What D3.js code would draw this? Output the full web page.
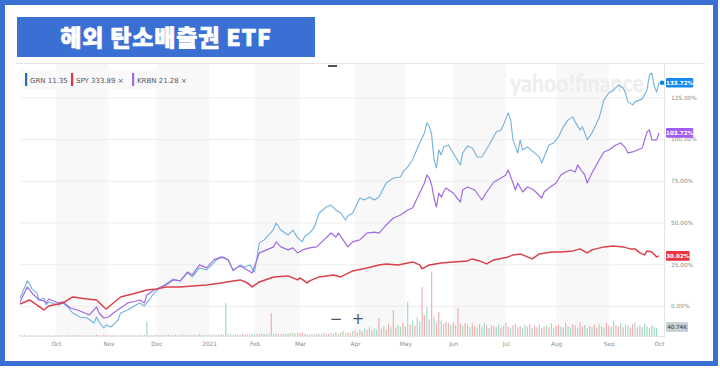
<!DOCTYPE html>
<html><head><meta charset="utf-8">
<script src="https://cdn.jsdelivr.net/npm/d3@7"></script>
<style>body{margin:0;background:#fff;}svg{display:block;}</style>
</head><body><svg id="c" width="720" height="368"></svg>
<script>
const title = "해외 탄소배출권 ETF";
const monthLabels = ["Oct","Nov","Dec","2021","Feb","Mar","Apr","May","Jun","Jul","Aug","Sep","Oct"];
const monthDays = [0,22,42,64,83,102,125,146,166,188,209,231,252];
const yTicks = [0,25,50,75,100,125];
const legendNames = ["GRN","SPY","KRBN"];
const legendPrices = ["11.35","333.89","21.28"];
const lastPct = [133.72, 30.02, 103.72];
const lastVolume = "40.74K";
const watermark = "yahoo!finance";

const grnDays = [-15,-13,-12,-11,-10,-8,-7,-5,-4,-3,1,3,5,7,10,13,16,17,18,20,21,23,26,27,30,32,35,37,39,41,44,46,49,52,55,57,60,63,66,67,70,72,73,74,77,79,81,83,84,85,87,90,91,92,94,97,99,101,103,104,106,108,110,113,115,117,119,121,122,124,127,129,131,133,135,138,141,144,145,147,149,152,154,155,156,157,158,159,160,161,162,164,166,169,170,172,174,176,178,181,184,186,187,189,190,191,193,194,195,197,198,200,202,203,204,206,208,210,212,214,216,217,219,220,221,222,224,226,227,229,231,233,235,237,238,239,241,242,244,245,247,248,249,250,251,252];
const grnPct = [4.8,11.4,15.0,13.2,10.2,7.8,3.6,4.8,0.6,2.4,0.6,1.8,-0.6,-4.2,-6.6,-7.2,-10.2,-6.6,-9.6,-13.2,-11.4,-12.6,-8.4,-4.2,-2.4,-0.6,1.8,0,3.6,7.8,11.4,13.2,16.2,15.0,19.8,17.4,22.8,21.6,25.8,27.6,29.4,27.6,24.6,21.0,24.6,23.4,24.6,20.4,28.8,37.8,39.6,44.3,46.1,49.7,45.5,42.5,45.5,40.8,38.4,41.9,43.7,47.3,55.7,59.3,60.5,57.5,55.7,51.5,53.9,55.7,64.7,63.5,65.3,63.5,65.3,73.7,76.7,77.3,80.3,83.3,87.5,97.7,103.7,109.7,107.9,102.5,87.5,82.7,93.5,90.5,95.3,96.5,91.7,84.5,91.7,95.9,94.7,89.3,89.3,96.5,104.3,105.5,108.5,115.7,111.5,99.5,91.7,99.5,93.5,95.3,94.1,91.7,89.3,85.7,89.3,96.5,97.7,101.3,107.3,111.5,113.3,110.3,105.5,107.3,103.7,99.5,103.7,109.7,112.7,123.5,127.6,129.4,132.4,130.6,127.6,122.3,120.5,122.3,123.5,124.1,129.4,138.4,139.6,131.8,128.2,133.7];

const krbnDays = [-15,-13,-12,-11,-10,-7,-5,-4,-3,1,3,6,9,11,14,17,18,20,22,24,27,30,32,35,37,38,41,44,46,49,52,55,57,60,63,66,69,72,74,77,80,82,84,85,88,91,92,94,97,99,101,103,106,109,112,115,117,118,120,122,124,127,130,133,135,138,141,144,147,149,152,154,155,156,157,158,159,160,161,162,163,166,169,170,172,175,178,180,183,186,188,189,191,192,193,195,197,199,201,203,204,206,209,211,213,215,217,218,220,221,222,224,227,229,231,234,236,238,239,241,243,245,246,247,248,249,251,252];
const krbnPct = [2.4,8.4,11.4,9.6,7.8,3.6,3.0,1.8,4.2,1.8,2.4,-1.2,-2.4,-3.6,-5.4,-0.6,-4.2,-7.2,-6.6,-4.2,-1.2,1.8,2.4,3.6,1.8,6.6,9.6,11.4,12.6,15.6,15.0,20.4,18.6,24.6,22.8,27.6,29.4,27.6,21.6,24.0,21.6,19.8,27.6,31.8,33.6,35.4,38.4,35.4,33.6,34.8,31.8,33.6,34.8,35.4,39.6,43.7,41.3,43.7,39.6,35.4,38.4,39.6,43.7,44.3,43.7,48.5,52.7,54.5,57.5,58.7,67.7,73.7,78.5,76.7,72.5,64.7,59.3,67.7,65.3,68.3,70.7,67.7,62.3,69.5,71.3,69.5,63.5,68.3,74.3,76.7,78.5,81.5,73.7,69.5,73.7,68.3,71.3,70.1,67.7,64.7,68.3,70.7,73.7,78.5,80.3,81.5,80.3,84.5,80.3,78.5,73.7,79.7,87.5,92.3,93.5,96.5,97.7,94.7,91.7,92.3,93.5,94.7,99.5,104.3,105.5,99.5,99.5,103.7];

const spyDays = [-15,-11,-5,-3,3,7,13,17,20,21,24,27,32,38,42,46,52,57,63,69,74,77,80,82,85,91,97,101,102,105,106,110,116,119,124,130,135,138,143,147,149,152,153,156,161,166,172,174,177,180,183,189,191,194,197,199,202,207,211,216,219,222,224,229,233,237,240,242,244,246,247,249,251,252];
const spyPct = [1.2,3.6,-2.4,0,1.8,5.4,4.2,3.6,-0.6,-1.8,1.8,5.4,7.2,9.6,10.2,11.4,11.4,12.0,12.6,13.8,15.0,15.6,13.8,11.4,14.4,17.4,18.0,15.6,16.8,13.8,15.0,17.4,18.6,17.4,21.0,22.8,24.6,25.2,24.6,25.8,26.4,24.6,22.2,24.6,25.8,26.4,27.0,28.2,27.0,25.2,27.6,29.4,30.6,31.2,29.4,28.2,31.2,32.4,32.4,33.0,34.2,31.8,33.6,35.4,36.0,35.4,34.2,34.2,31.8,30.6,33.0,32.4,29.4,30.0];

const volumeStartDay = -15;
const volumeK = [4,3,5,3,4,3,2,4,3,3, 3,4,3,2,3,4,3,3,5,3, 4,3,3,5,4,3,4,3,2,3, 4,3,5,4,3,6,4,3,4,5,
 4,3,4,5,3,4,6,5,4,3, 5,4,6,63,5,4,5,6,4,5, 4,6,5,4,5,6,4,5,7,5, 6,5,4,6,5,7,6,5,4,6,
 5,7,6,5,8,6,150,7,9,6, 8,7,6,9,7,8,6,9,8,10, 9,12,8,10,11,104,9,12,10,8, 10,9,12,11,14,10,13,12,15,11,
 8,6,10,7,12,9,8,14,10,11, 12,10,18,9,14,22,11,16,13,24, 25,18,30,22,35,28,40,26,33,29,
 82,35,45,30,55,40,118,38,50,42, 60,45,154,52,70,48,85,65,222,95, 131,75,290,88,60,109,70,55,65,58,
 50,62,48,127,55,45,60,52,40,58, 45,38,55,42,60,48,36,50,44,40, 52,38,46,60,42,35,48,56,40,45,
 38,50,42,55,36,47,40,52,38,44, 48,40,58,35,46,52,42,38,60,45, 40,55,48,36,62,44,50,38,46,42,
 52,40,56,45,38,60,48,42,70,50, 44,58,40,52,46,38,55,62,42,48, 40,56,44,38,50,42,35];
const volumeDir = "uddudduuddudududduuddudduudduduudduddududduuddudu" +
 "dduduudduddudududduudduduuddudduududduduudduddudu" +
 "udduduuddudduuduududduddududuuddudduduudduddududu" +
 "duudduddudduuddududuudduddudduuddududduduudduduud" +
 "udduududdududduudduddudduduuddudduuddudduududdudu" +
 "dduudduduudduddu";

const svg = d3.select("#c");
const F = "'DejaVu Sans', 'Open Sans', sans-serif";

const x = d3.scaleLinear().domain([-15, 252]).range([20, 659]);
const y = d3.scaleLinear().domain([-18, 145]).range([336, 64]);
const vh = d3.scaleLinear().domain([0, 300]).range([0, 66]);

// outer frame
svg.append("rect").attr("x",2.5).attr("y",2.5).attr("width",713).attr("height",361)
  .attr("fill","#fff").attr("stroke","#3a6fd4").attr("stroke-width",5);
// title
svg.append("rect").attr("x",17).attr("y",17).attr("width",298).attr("height",40).attr("fill","#3a6fd4");
svg.append("text").attr("x",166).attr("y",45.5).attr("text-anchor","middle").attr("fill","#fff")
  .attr("font-family","'Noto Sans CJK KR', sans-serif").attr("font-weight",900).attr("font-size",23)
  .attr("letter-spacing",0.8).attr("stroke","#fff").attr("stroke-width",0.6).text(title);

// chart container top line
svg.append("line").attr("x1",15).attr("x2",705).attr("y1",63.5).attr("y2",63.5).attr("stroke","#e6e6e6");
svg.append("line").attr("x1",328).attr("x2",337).attr("y1",66).attr("y2",66).attr("stroke","#4a5360").attr("stroke-width",2);

// month bands
const bands = svg.append("g");
for (let i = 0; i < monthDays.length - 1; i += 2) {
  bands.append("rect").attr("x", x(monthDays[i])).attr("y", 64)
    .attr("width", x(monthDays[i+1]) - x(monthDays[i])).attr("height", 272).attr("fill", "#f8f8f8");
}

// gridlines
const grid = svg.append("g").attr("transform","translate(20,0)")
  .call(d3.axisRight(y).tickValues(yTicks).tickSize(644).tickFormat(""));
grid.select(".domain").remove();
grid.selectAll("line").attr("stroke","#eeeeee");
svg.append("line").attr("x1",20).attr("x2",664).attr("y1",336.5).attr("y2",336.5).attr("stroke","#e4e4e4");
svg.append("line").attr("x1",664.5).attr("x2",664.5).attr("y1",64).attr("y2",338).attr("stroke","#e4e4e4");

// watermark
svg.append("text").attr("x",510).attr("y",92).attr("font-family","Lato, 'Open Sans', sans-serif")
  .attr("font-weight",900).attr("font-size",25).attr("fill","#eeeeee").attr("textLength",134)
  .attr("lengthAdjust","spacingAndGlyphs").text(watermark);

// volume bars
const vols = volumeK.map((v,i) => ({d: volumeStartDay + i, v, up: volumeDir.charAt(i) !== "d"}));
svg.append("g").selectAll("rect").data(vols).join("rect")
  .attr("x", d => x(d.d) - 0.6).attr("width", 1.2)
  .attr("y", d => 336 - vh(d.v)).attr("height", d => vh(d.v))
  .attr("fill", d => d.up ? "#9fdcc4" : "#f2aeb0");

// lines
const line = d3.line().x(d => x(d[0])).y(d => y(d[1]));
const series = [
  {days: grnDays, pct: grnPct, color: "#72b2df", w: 1.1},
  {days: krbnDays, pct: krbnPct, color: "#a06be2", w: 1.2},
  {days: spyDays, pct: spyPct, color: "#d9404a", w: 1.5}
];
series.forEach(s => {
  svg.append("path").datum(s.days.map((d,i) => [d, s.pct[i]]))
    .attr("d", line).attr("fill","none").attr("stroke", s.color)
    .attr("stroke-width", s.w).attr("stroke-linejoin","round");
});
svg.append("circle").attr("cx", x(grnDays[grnDays.length-1]) + 3).attr("cy", y(lastPct[0]))
  .attr("r", 2.3).attr("fill", "#0a7fe6");

// y axis labels
const ya = svg.append("g").attr("transform","translate(668,0)")
  .call(d3.axisRight(y).tickValues(yTicks).tickSize(0).tickPadding(3).tickFormat(d => d.toFixed(2) + "%"));
ya.select(".domain").remove();
ya.selectAll("text").attr("font-family",F).attr("font-size",5.8).attr("fill","#8a8a8a");

// x axis labels
const xa = svg.append("g").attr("transform","translate(0,340)")
  .call(d3.axisBottom(x).tickValues(monthDays).tickSize(0).tickPadding(2).tickFormat((d,i) => monthLabels[i]));
xa.select(".domain").remove();
xa.selectAll("text").attr("font-family",F).attr("font-size",5.8).attr("fill","#8a8a8a");

// end labels
const tagColors = ["#1589ef", "#e8343c", "#a35cf2"];
lastPct.forEach((p, i) => {
  const g = svg.append("g").attr("transform", `translate(666,${y(p)})`);
  const txt = p.toFixed(2) + "%";
  const w = txt.length * 3.6 + 2;
  g.append("rect").attr("x",0).attr("y",-4.8).attr("width",w).attr("height",9.6).attr("rx",1).attr("fill",tagColors[i]);
  g.append("text").attr("x",w/2).attr("y",2).attr("text-anchor","middle").attr("font-family",F)
    .attr("font-size",5.6).attr("font-weight","bold").attr("fill","#fff").text(txt);
});
{
  const g = svg.append("g").attr("transform", `translate(666,${336 - vh(40.74)})`);
  g.append("rect").attr("x",0).attr("y",-4.8).attr("width",22).attr("height",9.6).attr("fill","#c9ced4");
  g.append("text").attr("x",11).attr("y",2).attr("text-anchor","middle").attr("font-family",F)
    .attr("font-size",5.6).attr("fill","#333").text(lastVolume);
}

// legend
const lg = svg.append("g");
lg.append("rect").attr("x",20).attr("y",70).attr("width",174).attr("height",19).attr("fill","#f9f9f9");
const legColors = ["#1a6fbf", "#e0313a", "#a36be0"];
const legX = [25, 71, 132];
legendNames.forEach((n, i) => {
  lg.append("rect").attr("x",legX[i]).attr("y",73).attr("width",2.2).attr("height",13).attr("fill",legColors[i]);
  lg.append("text").attr("x",legX[i]+5).attr("y",82.5).attr("font-family",F).attr("font-size",7)
    .attr("fill","#555").text(n + " " + legendPrices[i] + (i > 0 ? "  \u00d7" : ""));
});

// zoom controls
svg.append("text").attr("x",336).attr("y",324).attr("text-anchor","middle").attr("font-family",F)
  .attr("font-size",15).attr("fill","#4a5360").text("\u2212");
svg.append("text").attr("x",358).attr("y",324).attr("text-anchor","middle").attr("font-family",F)
  .attr("font-size",15).attr("fill","#4a5360").text("+");
</script></body></html>
